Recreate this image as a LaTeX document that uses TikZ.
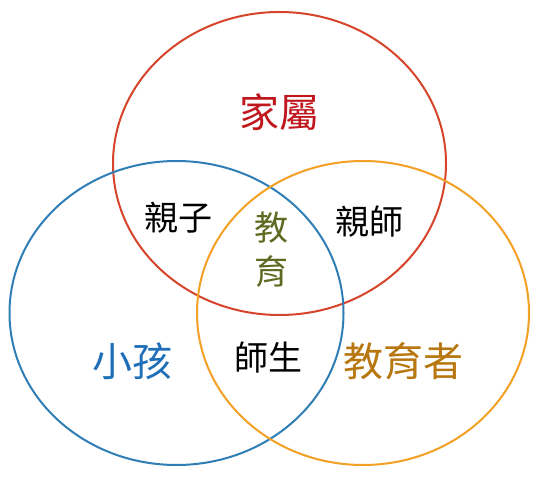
\documentclass[tikz,border=0pt]{standalone}
\usepackage{fontspec}
\newfontfamily\cjk{Noto Sans CJK TC}
\definecolor{cred}{HTML}{D6452B}
\definecolor{cblue}{HTML}{2F7EB6}
\definecolor{corange}{HTML}{F4A024}
\definecolor{tred}{HTML}{C0171E}
\definecolor{tblue}{HTML}{1E6FB8}
\definecolor{torange}{HTML}{B8760E}
\definecolor{tgreen}{HTML}{5C6B21}
\tikzset{
  ring/.style={line width=2pt},
  biglabel/.style={font=\cjk\fontsize{40}{42}\selectfont, inner sep=0pt},
  smalllabel/.style={font=\cjk\fontsize{34}{36}\selectfont, inner sep=0pt, text=black},
}
\begin{document}
\begin{tikzpicture}[x=1pt,y=-1pt]
\useasboundingbox[fill=white] (0,0) rectangle (540,478);
\draw[ring,cred] (279.5,163.5) ellipse [x radius=166.5, y radius=151.5];
\draw[ring,cblue] (176.5,313) ellipse [x radius=167, y radius=152];
\draw[ring,corange] (363,313) ellipse [x radius=166, y radius=152];
\node[biglabel,text=tred] (fam) at (279.5,112) {家屬};
\node[biglabel,text=tblue] (kid) at (132.5,361.5) {小孩};
\node[biglabel,text=torange] (edu) at (403,361.5) {教育者};
\node[smalllabel] (pc) at (178,218) {親子};
\node[smalllabel] (pt) at (369,222) {親師};
\node[smalllabel] (ts) at (268.5,357.5) {師生};
\node[smalllabel,text=tgreen] (e1) at (271,228) {教};
\node[smalllabel,text=tgreen] (e2) at (271,271) {育};
\end{tikzpicture}
\end{document}
